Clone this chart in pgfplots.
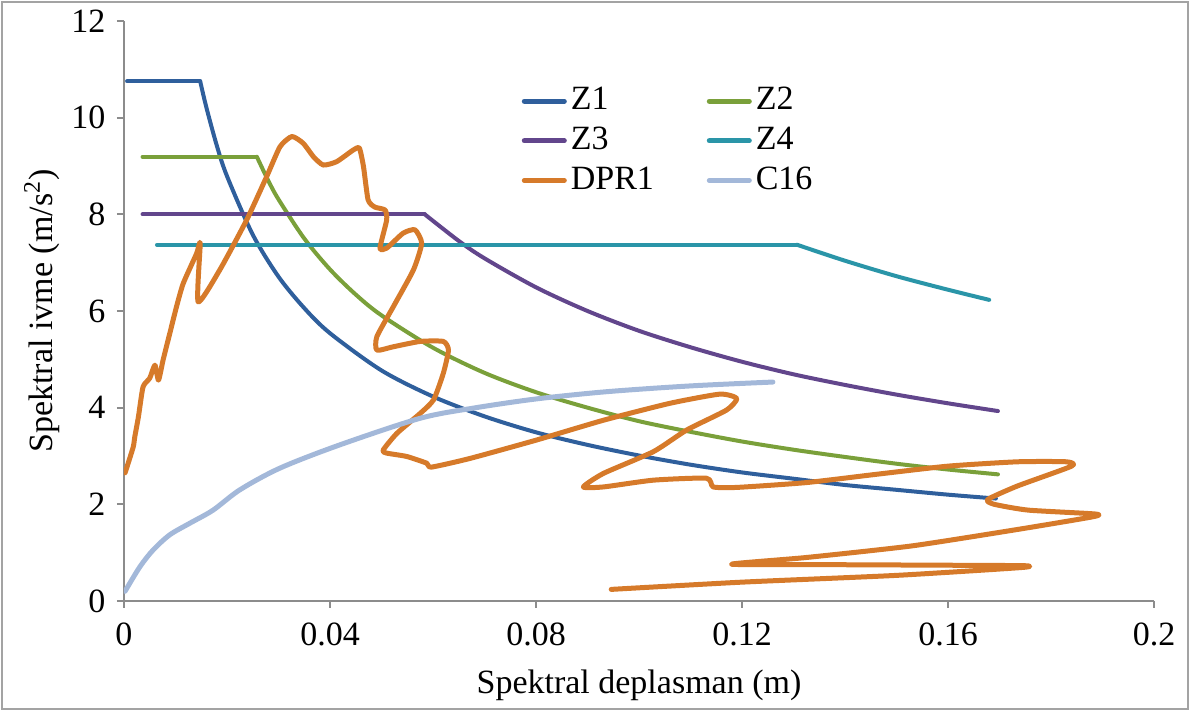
\documentclass[border=0pt]{standalone}
\usepackage{fontspec}
\setmainfont{Liberation Serif}
\usepackage{pgfplots}
\pgfplotsset{compat=1.18}
\definecolor{cZone}{HTML}{2F5F9C}
\definecolor{cZtwo}{HTML}{7AA03A}
\definecolor{cZthree}{HTML}{62468C}
\definecolor{cZfour}{HTML}{2A95A8}
\definecolor{cDPR}{HTML}{D67A2A}
\definecolor{cC}{HTML}{A3B8D9}
\definecolor{axgray}{HTML}{8C8C8C}
\begin{document}
\fontsize{17}{20}\selectfont
\begin{tikzpicture}
\useasboundingbox (-62pt,-55pt) rectangle (533pt,300.5pt);
\draw[axgray!80, line width=1pt] (-61pt,-54pt) rectangle (532pt,299.5pt);
\begin{axis}[
  at={(0pt,0pt)}, anchor=south west,
  scale only axis, width=515pt, height=290pt,
  xmin=0, xmax=0.2, ymin=0, ymax=12,
  axis x line*=bottom, axis y line*=left,
  x axis line style={-}, y axis line style={-},
  axis line style={axgray, line width=1pt},
  xtick={0,0.04,0.08,0.12,0.16,0.2},
  xticklabels={0,0.04,0.08,0.12,0.16,0.2},
  ytick={0,2,4,6,8,10,12},
  yticklabels={0,2,4,6,8,10,12},
  tick align=outside, major tick length=3.5pt,
  tick style={axgray, line width=1pt},
  tick label style={font=\fontsize{17}{20}\selectfont},
  xticklabel style={yshift=-1.5pt},
  label style={font=\fontsize{17}{20}\selectfont},
  xlabel={Spektral deplasman (m)},
  ylabel={Spektral ivme (m/s\textsuperscript{2})},
  xlabel style={at={(axis description cs:0.5,-0.145)}, anchor=center},
  ylabel style={at={(axis description cs:-0.0796,0.5)}, anchor=center, rotate=0},
  legend columns=2,
  legend style={at={(0.38,0.9)}, anchor=north west, draw=none, fill=none,
    font=\fontsize{17}{20}\selectfont, row sep=2pt,
    /tikz/every even column/.append style={column sep=0pt}},
  legend cell align=left,
  legend image code/.code={\draw[#1, line width=2.5pt, line cap=round] (0pt,0pt) -- (20pt,0pt);},
  every axis plot/.append style={line join=round, line cap=round},
]
% Z1
\addplot[cZone, line width=2pt, forget plot] coordinates {(0.0006,10.75) (0.0148,10.75)};
\addplot[cZone, line width=2pt, smooth, tension=0.5] coordinates {
(0.0148,10.75) (0.016,10.21) (0.018,9.43) (0.020,8.79) (0.025,7.58)
(0.030,6.71) (0.035,6.06) (0.040,5.54) (0.050,4.77) (0.060,4.23) (0.070,3.82)
(0.080,3.49) (0.090,3.23) (0.100,3.01) (0.110,2.82) (0.120,2.66) (0.130,2.53)
(0.140,2.40) (0.150,2.30) (0.160,2.20) (0.1693,2.12)};
\addlegendentry{\makebox[66pt][l]{Z1}}
% Z2
\addplot[cZtwo, line width=2pt, forget plot] coordinates {(0.0036,9.19) (0.0258,9.19)};
\addplot[cZtwo, line width=2pt, smooth, tension=0.5] coordinates {
(0.0258,9.19) (0.028,8.70) (0.030,8.31) (0.035,7.50) (0.040,6.86)
(0.045,6.34) (0.050,5.91) (0.060,5.24) (0.070,4.72) (0.080,4.32) (0.090,4.00)
(0.100,3.72) (0.110,3.50) (0.120,3.30) (0.130,3.13) (0.140,2.98) (0.150,2.84)
(0.160,2.72) (0.1697,2.62)};
\addlegendentry{Z2}
% Z3
\addplot[cZthree, line width=2pt, forget plot] coordinates {(0.0036,8.00) (0.0584,8.00)};
\addplot[cZthree, line width=2pt, smooth, tension=0.5] coordinates {
(0.0584,8.00) (0.065,7.45) (0.070,7.09) (0.080,6.49) (0.090,6.00)
(0.100,5.59) (0.110,5.25) (0.120,4.95) (0.130,4.69) (0.140,4.47) (0.150,4.27)
(0.160,4.09) (0.1697,3.93)};
\addlegendentry{\makebox[66pt][l]{Z3}}
% Z4
\addplot[cZfour, line width=2pt, forget plot] coordinates {(0.0064,7.37) (0.1307,7.37)};
\addplot[cZfour, line width=2pt, smooth, tension=0.5] coordinates {
(0.1307,7.37) (0.140,7.04) (0.150,6.72) (0.160,6.44) (0.168,6.23)};
\addlegendentry{Z4}
% DPR1
\addplot[cDPR, line width=2.5pt, smooth, tension=0.35] coordinates {
(0.0002,2.65) (0.0006,2.78) (0.0018,3.19) (0.0021,3.40) (0.0028,3.81) (0.0037,4.43)
(0.0050,4.61) (0.0060,4.88) (0.0067,4.57) (0.0076,4.99) (0.0089,5.54) (0.0102,6.09)
(0.0115,6.57) (0.0141,7.19) (0.0148,7.40) (0.0144,6.19) (0.0186,6.85) (0.0238,7.88)
(0.0277,8.78) (0.0303,9.40) (0.0326,9.61) (0.0348,9.47) (0.0368,9.19) (0.0387,9.02)
(0.0413,9.09) (0.0445,9.33) (0.0457,9.37) (0.0465,8.99) (0.0474,8.30) (0.0487,8.15)
(0.0507,8.09) (0.0510,7.88) (0.0497,7.30) (0.0510,7.30) (0.0542,7.61) (0.0565,7.68)
(0.0578,7.40) (0.0562,6.85) (0.0523,6.09) (0.0491,5.47) (0.0491,5.19) (0.0523,5.26)
(0.0575,5.37) (0.0620,5.37) (0.0630,5.19) (0.0620,4.71) (0.0601,4.16) (0.0575,3.88)
(0.0530,3.47) (0.0503,3.12) (0.0510,3.06) (0.0549,2.99) (0.0588,2.85) (0.0597,2.77)
(0.0672,2.95) (0.0801,3.33) (0.0931,3.74) (0.1060,4.09) (0.1157,4.28) (0.1190,4.19)
(0.1170,3.95) (0.1093,3.54) (0.1028,3.09) (0.0931,2.64) (0.0892,2.36) (0.0931,2.36)
(0.1028,2.50) (0.1131,2.54) (0.1144,2.36) (0.1190,2.35) (0.1325,2.45) (0.1460,2.62)
(0.1600,2.79) (0.1735,2.88) (0.1830,2.88) (0.1840,2.79) (0.1735,2.38) (0.1677,2.10)
(0.1690,2.00) (0.1756,1.88) (0.1886,1.80) (0.1880,1.74) (0.1735,1.48) (0.1530,1.14)
(0.1325,0.90) (0.1180,0.76) (0.1400,0.75) (0.1600,0.74) (0.1749,0.73) (0.1740,0.69)
(0.1500,0.53) (0.1200,0.39) (0.0946,0.24)};
\addlegendentry{\makebox[66pt][l]{DPR1}}
% C16
\addplot[cC, line width=2.5pt, smooth, tension=0.5] coordinates {
(0.0002,0.20) (0.0031,0.71) (0.0057,1.06) (0.0089,1.37) (0.0128,1.61) (0.0173,1.88)
(0.0225,2.30) (0.0303,2.75) (0.0419,3.23) (0.0575,3.78) (0.0678,3.99) (0.0800,4.18)
(0.0937,4.33) (0.1100,4.45) (0.1260,4.53)};
\addlegendentry{C16}
\end{axis}
\end{tikzpicture}
\end{document}
